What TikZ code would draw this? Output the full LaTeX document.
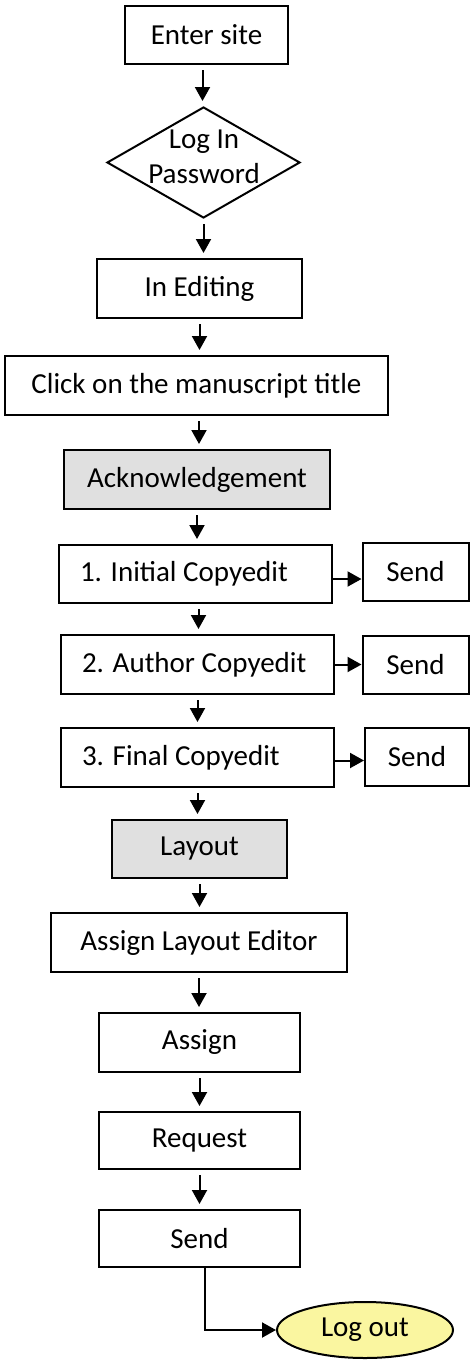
\documentclass[tikz,border=0pt]{standalone}
\usepackage{fontspec}
\setmainfont{Carlito}
\usetikzlibrary{shapes.geometric,arrows.meta}
\definecolor{boxgray}{RGB}{224,224,224}
\definecolor{logyellow}{RGB}{250,246,160}
\begin{document}
\begin{tikzpicture}[x=1pt,y=-1pt,
  every node/.style={font=\fontsize{29}{35}\selectfont, text=black},
  box/.style={draw, line width=2pt, rectangle, inner sep=0pt, align=center},
  lbox/.style={draw, line width=2pt, rectangle, inner sep=0pt, minimum width=273, minimum height=58},
  shaded/.style={fill=boxgray},
  arr/.style={line width=2pt, -{Triangle[length=14pt,width=15pt]}},
  varr/.style={arr, shorten <=5pt, shorten >=5pt}
]
\useasboundingbox (0,0) rectangle (470,1363);
\node[box, minimum width=163, minimum height=58] (enter) at (206.5,35) {Enter site};
\node[diamond, draw, line width=2pt, minimum width=193, minimum height=111, inner sep=0pt] (login) at (203.5,162.5) {};
\node[align=center, inner sep=0pt] (logintxt) at (204,157) {Log In\\Password};
\node[box, minimum width=205, minimum height=59] (editing) at (199.5,288.5) {In Editing};
\node[box, minimum width=383, minimum height=59] (click) at (196.5,385.5) {Click on the manuscript title};
\node[box, shaded, minimum width=266, minimum height=59] (ack) at (197,479.5) {Acknowledgement};
\node[lbox] (init) at (195.5,574) {\makebox[231pt][l]{1. Initial Copyedit}};
\node[box, minimum width=106, minimum height=58] (send1) at (415.5,572) {Send};
\node[lbox, minimum height=59] (author) at (197.5,664.5) {\makebox[231pt][l]{2. Author Copyedit}};
\node[box, minimum width=106, minimum height=58] (send2) at (415.5,665) {Send};
\node[lbox, minimum height=59] (final) at (197.5,757.5) {\makebox[231pt][l]{3. Final Copyedit}};
\node[box, minimum width=104, minimum height=58] (send3) at (417,757) {Send};
\node[box, shaded, minimum width=175, minimum height=58] (layout) at (199.5,849) {Layout};
\node[box, minimum width=296, minimum height=59] (ale) at (199,942.5) {Assign Layout Editor};
\node[box, minimum width=201, minimum height=59] (assign) at (199.5,1042.5) {Assign};
\node[box, minimum width=201, minimum height=57] (request) at (199.5,1140.5) {Request};
\node[box, minimum width=201, minimum height=57] (sendf) at (199.5,1238.5) {Send};
\node[ellipse, draw, line width=2pt, fill=logyellow, minimum width=176, minimum height=56, inner sep=0pt] (logout) at (365,1330) {Log out};

\draw[varr] ([xshift=-4pt]enter.south) -- ([xshift=-4pt]enter.south |- login.north);
\draw[varr] (login.south) -- (login.south |- editing.north);
\draw[varr] (editing.south) -- (editing.south |- click.north);
\draw[varr] ([xshift=2.5pt]click.south) -- ([xshift=2.5pt]click.south |- ack.north);
\draw[varr] (ack.south) -- (ack.south |- init.north);
\draw[varr] ([xshift=3pt]init.south) -- ([xshift=3pt]init.south |- author.north);
\draw[varr] (author.south) -- (author.south |- final.north);
\draw[varr] (final.south) -- (final.south |- layout.north);
\draw[varr] (layout.south) -- (layout.south |- ale.north);
\draw[varr] (ale.south) -- (ale.south |- assign.north);
\draw[varr] (assign.south) -- (assign.south |- request.north);
\draw[varr] (request.south) -- (request.south |- sendf.north);
\draw[arr] ([yshift=-5pt]init.east) -- ([yshift=-5pt]init.east -| send1.west);
\draw[arr] (author.east) -- (author.east -| send2.west);
\draw[arr] ([yshift=-3pt]final.east) -- ([yshift=-3pt]final.east -| send3.west);
\draw[arr] ([xshift=5pt]sendf.south) |- (logout.west);
\end{tikzpicture}
\end{document}
